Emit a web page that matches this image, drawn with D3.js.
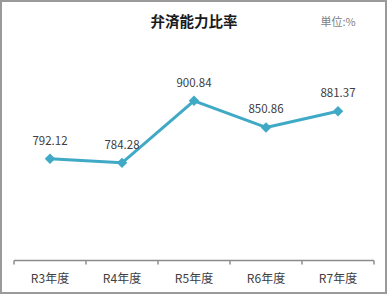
<!DOCTYPE html>
<html>
<head>
<meta charset="utf-8">
<script src="https://cdn.jsdelivr.net/npm/d3@7"></script>
<style>
  body { margin: 0; background: #fff; }
  text { font-family: "Noto Sans CJK JP", "Liberation Sans", sans-serif; }
</style>
</head>
<body>
<div id="chart"></div>
<script>
// chart data
var categories = ["R3年度", "R4年度", "R5年度", "R6年度", "R7年度"];
var values = [792.12, 784.28, 900.84, 850.86, 881.37];
var titleText = "弁済能力比率";
var unitText = "単位:%";

function init() {
    var w = 388;
    var h = 295;
    var margin = { top: 48, right: 14, bottom: 34, left: 14 };
    var width = w - margin.left - margin.right;   // 360
    var height = h - margin.top - margin.bottom;  // 213

    var svg = d3.select("#chart")
        .append("svg")
        .attr("width", w)
        .attr("height", h);

    // outer frame
    svg.append("rect")
        .attr("x", 1)
        .attr("y", 1)
        .attr("width", 385)
        .attr("height", 292)
        .attr("fill", "#fff")
        .attr("stroke", "#9a9a9a")
        .attr("stroke-width", 2);

    // title and unit
    svg.append("text")
        .attr("x", 194)
        .attr("y", 27)
        .attr("text-anchor", "middle")
        .attr("font-size", 14.5)
        .attr("font-weight", "bold")
        .attr("fill", "#1a1a1a")
        .text(titleText);

    svg.append("text")
        .attr("x", 338)
        .attr("y", 26)
        .attr("text-anchor", "middle")
        .attr("font-size", 11)
        .attr("fill", "#7f7f7f")
        .text(unitText);

    var g = svg.append("g")
        .attr("transform", "translate(" + margin.left + "," + margin.top + ")");

    var x = d3.scaleBand()
        .domain(categories)
        .range([0, width])
        .padding(0);

    var y = d3.scaleLinear()
        .domain([600, 1000])
        .range([height, 0]);

    // x axis
    var xAxis = g.append("g")
        .attr("transform", "translate(0," + (height - 0.5) + ")");

    xAxis.append("line")
        .attr("x1", 0)
        .attr("x2", width)
        .attr("stroke", "#8c8c8c")
        .attr("stroke-width", 1.5);

    var tickPos = categories.map(function (c) { return x(c); }).concat([width]);
    xAxis.selectAll(".tick")
        .data(tickPos)
        .enter()
        .append("line")
        .attr("x1", function (d) { return d; })
        .attr("x2", function (d) { return d; })
        .attr("y1", 0)
        .attr("y2", 4)
        .attr("stroke", "#8c8c8c")
        .attr("stroke-width", 1.5);

    xAxis.selectAll(".lab")
        .data(categories)
        .enter()
        .append("text")
        .attr("x", function (d) { return x(d) + x.bandwidth() / 2; })
        .attr("y", 22)
        .attr("text-anchor", "middle")
        .attr("font-size", 12)
        .attr("fill", "#404040")
        .text(function (d) { return d; });

    var cx = function (d, i) { return x(categories[i]) + x.bandwidth() / 2; };

    // line
    var line = d3.line()
        .x(function (d, i) { return cx(d, i); })
        .y(function (d) { return y(d); });

    g.append("path")
        .datum(values)
        .attr("fill", "none")
        .attr("stroke", "#3fa9c6")
        .attr("stroke-width", 3)
        .attr("stroke-linejoin", "round")
        .attr("d", line);

    // diamond markers
    var diamond = d3.symbol().type(d3.symbolDiamond2).size(70);
    g.selectAll(".marker")
        .data(values)
        .enter()
        .append("path")
        .attr("d", diamond)
        .attr("transform", function (d, i) { return "translate(" + cx(d, i) + "," + y(d) + ")"; })
        .attr("fill", "#3fa9c6");

    // value labels
    g.selectAll(".val")
        .data(values)
        .enter()
        .append("text")
        .attr("x", function (d, i) { return cx(d, i); })
        .attr("y", function (d) { return y(d) - 14; })
        .attr("text-anchor", "middle")
        .attr("font-family", "'Noto Sans', sans-serif")
        .attr("font-size", 11.5)
        .attr("fill", "#404040")
        .text(function (d) { return d.toFixed(2); });
}
window.onload = init;
</script>
</body>
</html>
